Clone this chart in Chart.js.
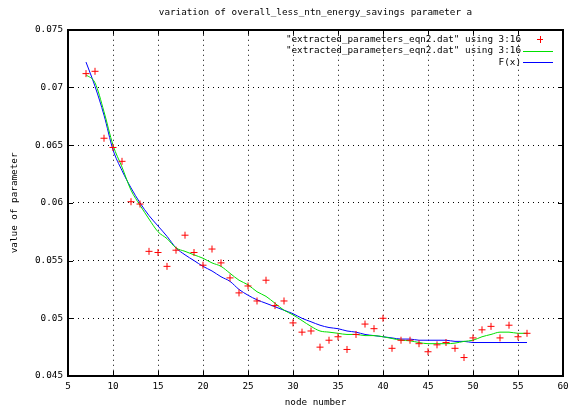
<!DOCTYPE html>
<html><head><meta charset="utf-8">
<script src="https://cdn.jsdelivr.net/npm/chart.js@4.4.1/dist/chart.umd.min.js"></script>
<style>html,body{margin:0;padding:0;background:#fff}</style>
</head><body>
<canvas id="c" width="571" height="408"></canvas>
<script>
const titleText = 'variation of overall_less_ntn_energy_savings parameter a';
const xAxisTitle = 'node number';
const yAxisTitle = 'value of parameter';
const seriesLabels = ['"extracted_parameters_eqn2.dat" using 3:16', '"extracted_parameters_eqn2.dat" using 3:16', 'F(x)'];
const xTicks = [5, 10, 15, 20, 25, 30, 35, 40, 45, 50, 55, 60];
const yTicks = [0.045, 0.05, 0.055, 0.06, 0.065, 0.07, 0.075];
const nodeNumbers = [7, 8, 9, 10, 11, 12, 13, 14, 15, 16, 17, 18, 19, 20, 21, 22, 23, 24, 25, 26, 27, 28, 29, 30, 31,
  32, 33, 34, 35, 36, 37, 38, 39, 40, 41, 42, 43, 44, 45, 46, 47, 48, 49, 50, 51, 52, 53, 54, 55, 56];
const measured = [0.0712, 0.0714, 0.0656, 0.0648, 0.0636, 0.0601, 0.0599, 0.0558, 0.0557, 0.0545,
  0.0559, 0.0572, 0.0557, 0.0546, 0.0560, 0.0548, 0.0535, 0.0522, 0.0528, 0.0515,
  0.0533, 0.0511, 0.0515, 0.0496, 0.0488, 0.0489, 0.0475, 0.0481, 0.0484, 0.0473,
  0.0486, 0.0495, 0.0491, 0.0500, 0.0474, 0.0481, 0.0481, 0.0478, 0.0471, 0.0477,
  0.0479, 0.0474, 0.0466, 0.0483, 0.0490, 0.0493, 0.0483, 0.0494, 0.0484, 0.0487];
const smoothed = [0.0711, 0.0704, 0.0679, 0.0650, 0.0631, 0.0611, 0.0598, 0.0586, 0.0575, 0.0569,
  0.0561, 0.0558, 0.0555, 0.0552, 0.0548, 0.0545, 0.0539, 0.0533, 0.0529, 0.0523,
  0.0519, 0.0513, 0.0507, 0.0503, 0.0498, 0.0493, 0.0489, 0.0488, 0.0487, 0.0486,
  0.0486, 0.0485, 0.0485, 0.0484, 0.04825, 0.0481, 0.04805, 0.0479, 0.0478, 0.0478,
  0.0478, 0.04785, 0.0480, 0.0481, 0.0484, 0.0486, 0.0488, 0.0488, 0.0487, 0.0487];
const fitted = [0.0722, 0.0701, 0.0676, 0.0646, 0.0628, 0.0613, 0.0600, 0.0589, 0.0580, 0.0571,
  0.0561, 0.0555, 0.0550, 0.0545, 0.0541, 0.0536, 0.0532, 0.0525, 0.0520, 0.0516,
  0.0513, 0.0510, 0.0507, 0.0504, 0.0500, 0.0497, 0.0494, 0.0492, 0.0491, 0.0489,
  0.0488, 0.0486, 0.0485, 0.0484, 0.0483, 0.0482, 0.0482, 0.0481, 0.0481, 0.0481,
  0.0481, 0.0480, 0.0480, 0.0479, 0.0479, 0.0479, 0.0479, 0.0479, 0.0479, 0.0479];

const FONT = 'DejaVu Sans Mono';
const FS = 9.3;

const toPts = arr => nodeNumbers.map((x, i) => ({x: x, y: arr[i]}));
const fmtY = v => String(Number(v.toFixed(4)));

const gnuplotFrame = {
  id: 'gnuplotFrame',
  afterDatasetsDraw(chart) {
    const {ctx, chartArea: a, scales: {x, y}} = chart;
    ctx.save();
    ctx.strokeStyle = '#000';
    ctx.lineWidth = 1;
    const tl = 5;
    ctx.beginPath();
    xTicks.forEach(v => {
      const px = Math.round(x.getPixelForValue(v)) + 0.5;
      ctx.moveTo(px, a.bottom); ctx.lineTo(px, a.bottom - tl);
      ctx.moveTo(px, a.top); ctx.lineTo(px, a.top + tl);
    });
    yTicks.forEach(v => {
      const py = Math.round(y.getPixelForValue(v)) + 0.5;
      ctx.moveTo(a.left, py); ctx.lineTo(a.left + tl, py);
      ctx.moveTo(a.right, py); ctx.lineTo(a.right - tl, py);
    });
    ctx.stroke();
    ctx.lineWidth = 2;
    ctx.strokeRect(Math.round(a.left), Math.round(a.top), Math.round(a.right - a.left), Math.round(a.bottom - a.top));
    // legend
    ctx.font = FS + 'px "' + FONT + '"';
    ctx.fillStyle = '#000';
    ctx.textAlign = 'right';
    ctx.textBaseline = 'middle';
    const textRight = a.right - 42;
    const rows = [a.top + 9.5, a.top + 21, a.top + 32.5];
    chart.data.datasets.forEach((ds, i) => {
      const ry = rows[i];
      ctx.fillStyle = '#000';
      ctx.fillText(ds.label, textRight, ry);
      ctx.strokeStyle = ds.borderColor;
      ctx.lineWidth = 1;
      ctx.beginPath();
      if (i === 0) {
        const cx = textRight + 19, cy = Math.round(ry) + 0.5;
        ctx.moveTo(cx - 3, cy); ctx.lineTo(cx + 3, cy);
        ctx.moveTo(cx + 0.5, cy - 3.5); ctx.lineTo(cx + 0.5, cy + 3.5);
      } else {
        const cy = Math.round(ry) + 0.5;
        ctx.moveTo(textRight + 2, cy); ctx.lineTo(textRight + 32, cy);
      }
      ctx.stroke();
    });
    ctx.restore();
  }
};

new Chart(document.getElementById('c').getContext('2d'), {
  type: 'scatter',
  data: {
    datasets: [
      {label: seriesLabels[0], data: toPts(measured), showLine: false, pointStyle: 'cross',
       pointRadius: 3.5, pointBorderWidth: 1, borderColor: '#ff0000', backgroundColor: '#ff0000'},
      {label: seriesLabels[1], data: toPts(smoothed), showLine: true, pointRadius: 0,
       borderColor: '#00e000', borderWidth: 1, cubicInterpolationMode: 'monotone'},
      {label: seriesLabels[2], data: toPts(fitted), showLine: true, pointRadius: 0,
       borderColor: '#0000ff', borderWidth: 1, cubicInterpolationMode: 'monotone'}
    ]
  },
  options: {
    responsive: false, animation: false, devicePixelRatio: 1,
    layout: {padding: {left: 0, right: 8, top: 0, bottom: 0}},
    plugins: {
      legend: {display: false}, tooltip: {enabled: false},
      title: {display: true, text: titleText, color: '#000', fullSize: false,
        font: {family: FONT, size: FS, weight: 'normal'}, padding: {top: 7, bottom: 11.6}}
    },
    scales: {
      x: {
        type: 'linear', min: 5, max: 60,
        afterBuildTicks: s => { s.ticks = xTicks.map(v => ({value: v})); },
        afterFit: s => { s.height = 32; s.paddingLeft = 0; s.paddingRight = 0; },
        ticks: {color: '#000', font: {family: FONT, size: FS}, padding: 5, maxRotation: 0, autoSkip: false},
        grid: {color: '#000', lineWidth: 1, drawTicks: false, borderDash: [1, 4]},
        border: {display: false, dash: [1, 4]},
        title: {display: true, text: xAxisTitle, color: '#000', font: {family: FONT, size: FS}, padding: {top: 0, bottom: 0}}
      },
      y: {
        type: 'linear', min: 0.045, max: 0.075,
        afterBuildTicks: s => { s.ticks = yTicks.map(v => ({value: v})); },
        afterFit: s => { s.width = 68; s.paddingTop = 0; s.paddingBottom = 0; },
        ticks: {color: '#000', font: {family: FONT, size: FS}, padding: 5, autoSkip: false, callback: v => fmtY(v)},
        grid: {color: '#000', lineWidth: 1, drawTicks: false, borderDash: [1, 4]},
        border: {display: false, dash: [1, 4]},
        title: {display: true, text: yAxisTitle, color: '#000', font: {family: FONT, size: FS}, padding: {top: 9, bottom: 0}}
      }
    }
  },
  plugins: [gnuplotFrame]
});
</script>
</body></html>
